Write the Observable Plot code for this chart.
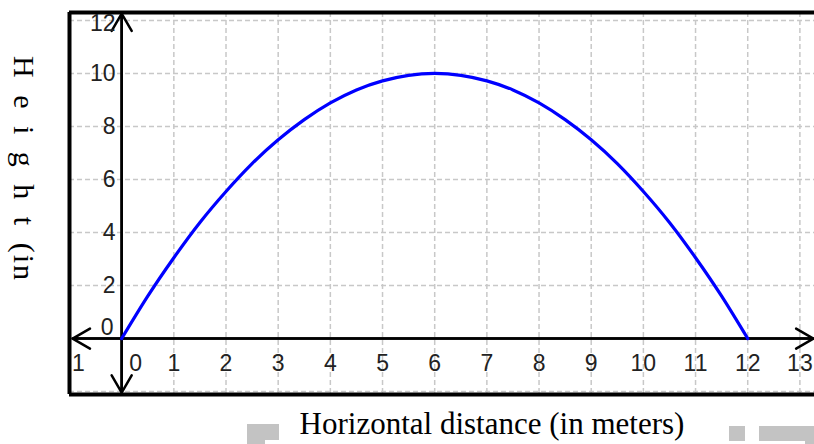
<!DOCTYPE html>
<html>
<head>
<meta charset="utf-8">
<script src="https://cdn.jsdelivr.net/npm/d3@7"></script>
<script src="https://cdn.jsdelivr.net/npm/@observablehq/plot@0.6"></script>
<style>
  body { margin: 0; background: #fff; }
  #wrap { position: relative; width: 814px; height: 444px; overflow: hidden; }
  #xlabel { position: absolute; left: 492px; top: 404px; transform: translateX(-50%);
    font-family: "Liberation Serif", "Times New Roman", serif; font-size: 31px; white-space: nowrap; color: #000; line-height: 40px; }
  #ylabel { position: absolute; left: 9px; top: 56px; writing-mode: vertical-rl;
    font-family: "Liberation Serif", "Times New Roman", serif; font-size: 30px; white-space: nowrap; color: #000;
    line-height: 30px; word-spacing: 6px; letter-spacing: 2px; }
  .blk { position: absolute; background: #c3c3c3; }
</style>
</head>
<body>
<div id="wrap"></div>
<script>
// Curve: horizontal distance (m) vs height (m)
const distance = [0, 0.5, 1, 1.5, 2, 2.5, 3, 3.5, 4, 4.5, 5, 5.5, 6, 6.5, 7, 7.5, 8, 8.5, 9, 9.5, 10, 10.5, 11, 11.5, 12];
const height   = [0, 1.6, 3.05, 4.38, 5.55, 6.6, 7.5, 8.26, 8.89, 9.38, 9.72, 9.93, 10, 9.93, 9.72, 9.38, 8.89, 8.26, 7.5, 6.6, 5.55, 4.38, 3.05, 1.6, 0];

// Axis ticks and labels
const xGrid = [-1, 0, 1, 2, 3, 4, 5, 6, 7, 8, 9, 10, 11, 12, 13];
const xTickLabels = ["1", "0", "1", "2", "3", "4", "5", "6", "7", "8", "9", "10", "11", "12", "13"];
const yGrid = [-2, 0, 2, 4, 6, 8, 10, 12];
const yTickLabels = ["", "0", "2", "4", "6", "8", "10", "12"];

// Visible extents
const xDomain = [-1, 13.28];
const yDomain = [-2.11, 12.3];
const xAxisEnds = [-0.94, 13.26];
const yAxisEnds = [-2.04, 12.26];

const xLabelText = "Horizontal distance (in meters)";
const yLabelText = "H e i g h t (in";

const curve = distance.map((d, i) => ({x: d, y: height[i]}));
const xTicks = xGrid.map((v, i) => ({v, t: xTickLabels[i]}));
const yTicks = yGrid.map((v, i) => ({v, t: yTickLabels[i]}));

const sans = "'Liberation Sans', Arial, sans-serif";
const gridStyle = {stroke: "#c8c8c8", strokeWidth: 1.5, strokeDasharray: "5,3"};
const arrowStyle = {stroke: "#000", strokeWidth: 2.5, headLength: 12, headAngle: 60};

const chart = Plot.plot({
  width: 814,
  height: 400,
  marginLeft: 69,
  marginRight: 0,
  marginTop: 12,
  marginBottom: 6,
  x: {domain: xDomain, axis: null},
  y: {domain: yDomain, axis: null},
  marks: [
    Plot.ruleX(xGrid, gridStyle),
    Plot.ruleY(yGrid, gridStyle),
    // axis lines with arrowheads at both ends
    Plot.arrow([0], {x1: xAxisEnds[1], x2: xAxisEnds[0], y1: 0, y2: 0, ...arrowStyle}),
    Plot.arrow([0], {x1: xAxisEnds[0], x2: xAxisEnds[1], y1: 0, y2: 0, ...arrowStyle}),
    Plot.arrow([0], {x1: 0, x2: 0, y1: yAxisEnds[0], y2: yAxisEnds[1], ...arrowStyle}),
    Plot.arrow([0], {x1: 0, x2: 0, y1: yAxisEnds[1], y2: yAxisEnds[0], ...arrowStyle}),
    // curve
    Plot.line(curve, {x: "x", y: "y", stroke: "#0000ff", strokeWidth: 3.2, curve: "natural"}),
    // frame: left, top, bottom
    Plot.ruleX([xDomain[0]], {stroke: "#000", strokeWidth: 4}),
    Plot.ruleY(yDomain, {stroke: "#000", strokeWidth: 4}),
    // y tick labels
    Plot.text(yTicks.filter(d => +d.t >= 2 && +d.t <= 10), {x: () => 0, y: "v", text: "t", textAnchor: "end", dx: -6, fontFamily: sans, fontSize: 23, fill: "#222"}),
    Plot.text(yTicks.filter(d => d.t === "0"), {x: () => 0, y: "v", text: "t", textAnchor: "end", dx: -8, dy: -11, fontFamily: sans, fontSize: 23, fill: "#222"}),
    Plot.text(yTicks.filter(d => d.t === "12"), {x: () => 0, y: "v", text: "t", textAnchor: "end", dx: -6, dy: 3, fontFamily: sans, fontSize: 23, fill: "#222"}),
    // x tick labels
    Plot.text(xTicks.filter(d => d.v >= 1), {x: "v", y: () => 0, text: "t", dy: 25, fontFamily: sans, fontSize: 23, fill: "#222"}),
    Plot.text(xTicks.filter(d => d.v === 0), {x: "v", y: () => 0, text: "t", dx: 14, dy: 25, fontFamily: sans, fontSize: 23, fill: "#222"}),
    Plot.text(xTicks.filter(d => d.v === -1), {x: "v", y: () => 0, text: "t", dx: 9, dy: 25, fontFamily: sans, fontSize: 23, fill: "#222"})
  ]
});

const wrap = document.getElementById("wrap");
wrap.appendChild(chart);

const yl = document.createElement("div");
yl.id = "ylabel";
yl.textContent = yLabelText;
wrap.appendChild(yl);

const xl = document.createElement("div");
xl.id = "xlabel";
xl.textContent = xLabelText;
wrap.appendChild(xl);

// grey scan blocks beneath the chart
[[247, 424, 32, 16], [247, 440, 18, 4], [729, 426, 16, 15], [759, 426, 55, 15], [805, 441, 9, 3]].forEach(([l, t, w, h]) => {
  const b = document.createElement("div");
  b.className = "blk";
  Object.assign(b.style, {left: l + "px", top: t + "px", width: w + "px", height: h + "px"});
  wrap.appendChild(b);
});
</script>
</body>
</html>
